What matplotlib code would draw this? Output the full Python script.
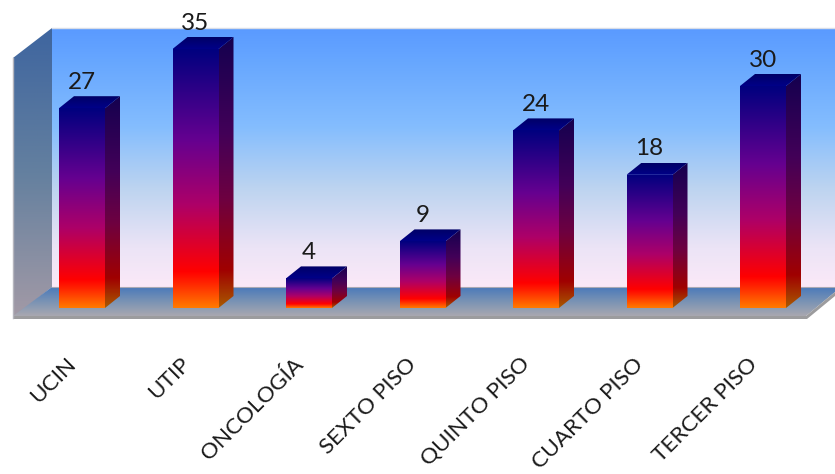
import numpy as np
import matplotlib
matplotlib.use("Agg")
import matplotlib.pyplot as plt
from matplotlib.colors import LinearSegmentedColormap as LSC
from matplotlib.patches import Polygon
from matplotlib.transforms import ScaledTranslation

categories = ["UCIN", "UTIP", "ONCOLOGÍA", "SEXTO PISO", "QUINTO PISO", "CUARTO PISO", "TERCER PISO"]
values = [27, 35, 4, 9, 24, 18, 30]

W, H = 835, 474
plt.rcParams["font.family"] = ["Lato", "DejaVu Sans"]
fig = plt.figure(figsize=(W / 100, H / 100), dpi=100, facecolor="white")


def ramp(stops):
    return LSC.from_list("r", [(p, c) for p, c in stops])


def fill_gradient(ax, pts, cmap, zorder):
    """Fill a polygon with a top-to-bottom colour ramp."""
    pts = np.asarray(pts, float)
    x0, x1 = pts[:, 0].min(), pts[:, 0].max()
    y0, y1 = pts[:, 1].min(), pts[:, 1].max()
    g = np.linspace(0, 1, 256)[:, None]
    extent = (x0, x1, y1, y0) if ax is scene else (x0, x1, y0, y1)
    im = ax.imshow(g, cmap=cmap, vmin=0, vmax=1, extent=extent, origin="upper", aspect="auto",
                   zorder=zorder, interpolation="bilinear")
    clip = Polygon(pts, closed=True, transform=ax.transData, facecolor="none", edgecolor="none")
    ax.add_patch(clip)
    im.set_clip_path(clip)


# Room: back wall, side wall and floor, laid out in pixel space
scene = fig.add_axes([0, 0, 1, 1], zorder=0)
scene.set_xlim(0, W)
scene.set_ylim(H, 0)
scene.axis("off")

wall = ramp([(0, "#5a9aff"), (0.12, "#66a6ff"), (0.38, "#84bdfe"), (0.62, "#bdd4f0"), (0.85, "#ece4f6"), (1, "#fbe9f8")])
side = ramp([(0, "#3e659f"), (0.5, "#64809f"), (1, "#a39aa6")])
floor = ramp([(0, "#4a79ba"), (0.5, "#7a93b4"), (1, "#a9a8b0")])

fill_gradient(scene, [(52, 28), (835, 28), (835, 287), (52, 287)], wall, 1)
scene.plot([52, 835], [27.5, 27.5], color="#d8dde8", lw=1, zorder=2)
fill_gradient(scene, [(13, 58), (52, 28), (52, 287), (13, 318)], side, 1)
fill_gradient(scene, [(52, 287), (835, 287), (835, 292), (806, 316), (13, 316)], floor, 1)
scene.add_patch(Polygon([(13, 316), (806, 316), (835, 292), (835, 296), (807, 319), (13, 319)],
                        closed=True, facecolor="#9c9c9e", edgecolor="none", zorder=2))
scene.plot([52, 835], [287, 287], color="#a9a9b4", lw=0.8, zorder=2)
scene.plot([13, 13], [58, 318], color="#b5b5bd", lw=1, zorder=2)
scene.set_xlim(0, W)
scene.set_ylim(H, 0)

# Value axes: one category step is 113.5 px, one unit is 7.4 px
step, unit = 113.5, 7.4
base_px, top_px = 308, 28
left_px = 82 - step / 2
ax = fig.add_axes([left_px / W, (H - base_px) / H, 7 * step / W, (base_px - top_px) / H], zorder=1)
ax.patch.set_visible(False)
for s in ax.spines.values():
    s.set_visible(False)
ax.set_yticks([])
ax.set_xticks(range(len(categories)))
ax.set_xticklabels(categories, rotation=45, ha="right", va="top", rotation_mode="anchor",
                   fontsize=16.2, color="#1a1a1a")
ax.tick_params(axis="x", length=0, pad=33)
shift = ScaledTranslation(-16 / 100, 0, fig.dpi_scale_trans)
for lab in ax.get_xticklabels():
    lab.set_transform(lab.get_transform() + shift)

bar_w = 46 / step
dx, dy = 15 / step, 12 / unit

front = ramp([(0, "#00007f"), (0.35, "#650090"), (0.6, "#ad0068"), (0.86, "#ff0000"), (0.9, "#ff2000"), (1, "#ff7a00")])
flank = ramp([(0, "#14004f"), (0.35, "#420058"), (0.6, "#6e0040"), (0.86, "#a00000"), (1, "#a85a00")])
cap = ramp([(0, "#000066"), (1, "#000088")])

for i, v in enumerate(values):
    l, r = i - bar_w / 2, i + bar_w / 2
    fill_gradient(ax, [(r, 0), (r + dx, dy), (r + dx, v + dy), (r, v)], flank, 3)
    fill_gradient(ax, [(l, v), (r, v), (r + dx, v + dy), (l + dx, v + dy)], cap, 3)
    fill_gradient(ax, [(l, 0), (r, 0), (r, v), (l, v)], front, 4)
    ax.text(i, v + dy + 0.45, str(v), ha="center", va="bottom", fontsize=17.5, color="#1a1a1a", zorder=5)

ax.set_xlim(-0.5, 6.5)
ax.set_ylim(0, (base_px - top_px) / unit)

fig.savefig("out.png", dpi=100)
